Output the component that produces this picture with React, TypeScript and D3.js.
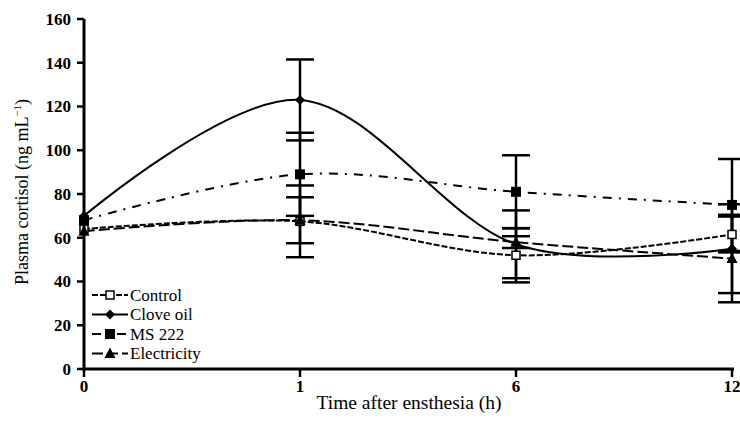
import React from "react";
import * as d3 from "d3";

// sampling times (h) and group means / SE
const times = ["0", "1", "6", "12"];
const control = [64, 67.5, 52, 61.5];
const controlErr = [0, 16.4, 12.4, 8.2];
const clove = [70, 123, 57, 55];
const cloveErr = [0, 18.5, 15.5, 20.3];
const ms222 = [68, 89, 81, 75];
const ms222Err = [0, 19, 16.7, 21];
const electricity = [63, 68, 58, 50.5];
const electricityErr = [0, 10.5, 2.7, 20];
const yTicks = [0, 20, 40, 60, 80, 100, 120, 140, 160];

const W = 740;
const H = 424;
const margin = { top: 19, right: 8, bottom: 55, left: 84 };

const series = [
  { name: "Control", values: control, err: controlErr, dash: "6,2", marker: "openSquare" },
  { name: "Clove oil", values: clove, err: cloveErr, dash: "", marker: "diamond" },
  { name: "MS 222", values: ms222, err: ms222Err, dash: "9,7,2,7", marker: "square" },
  { name: "Electricity", values: electricity, err: electricityErr, dash: "11,4", marker: "triangle" },
];

function Marker({ type, x, y }: { type: string; x: number; y: number }) {
  if (type === "openSquare")
    return <rect x={x - 4} y={y - 4} width={8} height={8} fill="#fff" stroke="#000" strokeWidth={1.5} />;
  if (type === "square") return <rect x={x - 5} y={y - 5} width={10} height={10} fill="#000" />;
  if (type === "diamond")
    return <path d={`M${x},${y - 5}L${x + 5},${y}L${x},${y + 5}L${x - 5},${y}Z`} fill="#000" />;
  return <path d={`M${x},${y - 6}L${x + 5.5},${y + 4.5}L${x - 5.5},${y + 4.5}Z`} fill="#000" />;
}

export default function App() {
  const x = d3.scalePoint<string>().domain(times).range([margin.left, W - margin.right]).padding(0);
  const y = d3.scaleLinear().domain([0, 160]).range([H - margin.bottom, margin.top]);

  const line = d3
    .line<number>()
    .x((_, i) => x(times[i])!)
    .y((d) => y(d))
    .curve(d3.curveCardinal.tension(0));

  const font = "'Liberation Serif', 'Times New Roman', serif";
  const capW = 14;

  return (
    <svg width={W} height={H} style={{ position: "absolute", left: 0, top: 0 }} fontFamily={font}>
      <rect width={W} height={H} fill="#fff" />

      {/* series lines */}
      {series.map((s) => (
        <path
          key={s.name}
          d={line(s.values)!}
          fill="none"
          stroke="#000"
          strokeWidth={2}
          strokeDasharray={s.dash || undefined}
        />
      ))}

      {/* error bars */}
      {series.map((s) =>
        s.values.map((v, i) => {
          if (!s.err[i]) return null;
          const cx = x(times[i])!;
          const y1 = y(v + s.err[i]);
          const y2 = y(v - s.err[i]);
          return (
            <g key={s.name + i} stroke="#000" strokeWidth={2.5}>
              <line x1={cx} x2={cx} y1={y1} y2={y2} />
              <line x1={cx - capW} x2={cx + capW} y1={y1} y2={y1} />
              <line x1={cx - capW} x2={cx + capW} y1={y2} y2={y2} />
            </g>
          );
        })
      )}

      {/* markers */}
      {series.map((s) =>
        s.values.map((v, i) => <Marker key={s.name + "m" + i} type={s.marker} x={x(times[i])!} y={y(v)} />)
      )}

      {/* y axis */}
      <line x1={margin.left} x2={margin.left} y1={y(160)} y2={y(0) + 1.5} stroke="#000" strokeWidth={3} />
      {yTicks.map((t) => (
        <g key={t}>
          <line x1={margin.left - 7} x2={margin.left} y1={y(t)} y2={y(t)} stroke="#000" strokeWidth={2.5} />
          <text x={margin.left - 13} y={y(t)} dy="0.35em" textAnchor="end" fontSize={17} fontWeight="bold">
            {t}
          </text>
        </g>
      ))}

      {/* x axis */}
      <line x1={margin.left - 1.5} x2={W - margin.right + 2} y1={y(0)} y2={y(0)} stroke="#000" strokeWidth={3} />
      {times.map((t) => (
        <g key={t}>
          <line x1={x(t)!} x2={x(t)!} y1={y(0)} y2={y(0) + 8} stroke="#000" strokeWidth={2.5} />
          <text x={x(t)!} y={y(0) + 23} textAnchor="middle" fontSize={17} fontWeight="bold">
            {t}
          </text>
        </g>
      ))}

      <text x={(margin.left + W - margin.right) / 2 + 1} y={409} textAnchor="middle" fontSize={19.5}>
        Time after ensthesia (h)
      </text>
      <text
        transform={`translate(28,${(y(0) + y(160)) / 2 - 2}) rotate(-90)`}
        textAnchor="middle"
        fontSize={18}
      >
        Plasma cortisol (ng mL
        <tspan dy={-7} fontSize={11}>
          −1
        </tspan>
        <tspan dy={7}>)</tspan>
      </text>

      {/* legend */}
      {series.map((s, i) => {
        const ly = 295 + i * 19.5;
        return (
          <g key={s.name + "leg"}>
            <line
              x1={92}
              x2={128}
              y1={ly}
              y2={ly}
              stroke="#000"
              strokeWidth={2}
              strokeDasharray={s.dash || undefined}
            />
            <Marker type={s.marker} x={110} y={ly} />
            <text x={130} y={ly} dy="0.35em" fontSize={17}>
              {s.name}
            </text>
          </g>
        );
      })}
    </svg>
  );
}
